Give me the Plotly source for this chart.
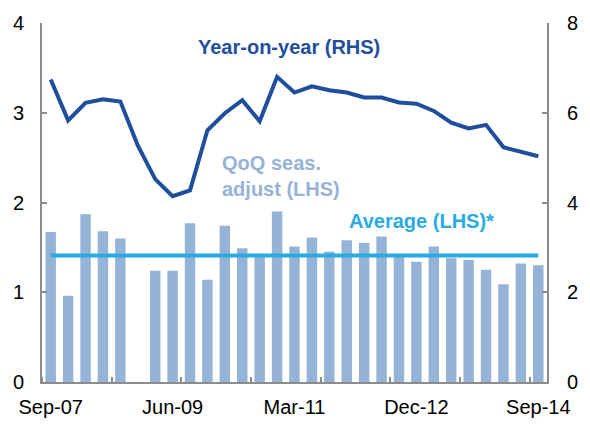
import plotly.graph_objects as go

# Quarterly periods, Sep-07 to Sep-14
quarters = ["Sep-07", "Dec-07", "Mar-08", "Jun-08", "Sep-08", "Dec-08", "Mar-09",
            "Jun-09", "Sep-09", "Dec-09", "Mar-10", "Jun-10", "Sep-10", "Dec-10",
            "Mar-11", "Jun-11", "Sep-11", "Dec-11", "Mar-12", "Jun-12", "Sep-12",
            "Dec-12", "Mar-13", "Jun-13", "Sep-13", "Dec-13", "Mar-14", "Jun-14",
            "Sep-14"]

# Quarter-on-quarter growth, seasonally adjusted (LHS, %)
qoq = [1.67, 0.96, 1.87, 1.68, 1.60, -0.02, 1.24, 1.24, 1.77, 1.14, 1.74, 1.49,
       1.42, 1.90, 1.51, 1.61, 1.45, 1.58, 1.55, 1.62, 1.41, 1.34, 1.51, 1.38,
       1.36, 1.25, 1.09, 1.32, 1.30]

# Year-on-year growth (RHS, %)
yoy = [6.74, 5.83, 6.22, 6.30, 6.25, 5.27, 4.52, 4.14, 4.27, 5.61, 5.99, 6.28,
       5.81, 6.80, 6.45, 6.59, 6.50, 6.45, 6.34, 6.34, 6.23, 6.20, 6.04, 5.78,
       5.65, 5.73, 5.23, 5.14, 5.03]

# Long-run average of quarterly growth (LHS, %)
average_qoq = 1.41

tick_labels = ["Sep-07", "Jun-09", "Mar-11", "Dec-12", "Sep-14"]

x = list(range(len(quarters)))
tick_pos = [quarters.index(t) for t in tick_labels]

BAR = "#95B3D7"
LINE = "#1F4E9C"
AVG = "#29ABE2"
AXIS = "#8C8C8C"
FONT = "Liberation Sans, Arial, sans-serif"

fig = go.Figure()
fig.add_trace(go.Bar(x=x, y=qoq, marker_color=BAR, marker_line_width=0,
                     yaxis="y", hoverinfo="skip"))
fig.add_trace(go.Scatter(x=x, y=[average_qoq] * len(x), mode="lines",
                         line=dict(color=AVG, width=4), yaxis="y"))
fig.add_trace(go.Scatter(x=x, y=yoy, mode="lines",
                         line=dict(color=LINE, width=4), yaxis="y2"))

fig.update_layout(
    width=590, height=430,
    margin=dict(l=42, r=32, t=17, b=43),
    paper_bgcolor="white", plot_bgcolor="white",
    showlegend=False, bargap=0.4,
    font=dict(family=FONT, size=20, color="black"),
    xaxis=dict(
        range=[-0.5, len(x) - 0.5],
        tickmode="array", tickvals=tick_pos, ticktext=tick_labels,
        ticks="", showgrid=False, zeroline=False,
        showline=True, linecolor=AXIS, linewidth=2,
        ticklabelstandoff=6,
        minor=dict(tickmode="linear", tick0=3.5, dtick=4, ticks="inside",
                   ticklen=5, tickwidth=1.5, tickcolor=AXIS, showgrid=False),
    ),
    yaxis=dict(
        range=[0, 4], tickvals=[0, 1, 2, 3, 4], ticks="inside", ticklen=5,
        tickwidth=1.5, tickcolor=AXIS, showgrid=False, zeroline=False,
        showline=True, linecolor=AXIS, linewidth=2, ticklabelstandoff=12,
    ),
    yaxis2=dict(
        range=[0, 8], tickvals=[0, 2, 4, 6, 8], overlaying="y", side="right",
        ticks="inside", ticklen=5, tickwidth=1.5, tickcolor=AXIS,
        showgrid=False, zeroline=False, showline=True, linecolor=AXIS,
        linewidth=2, ticklabelstandoff=14,
    ),
    annotations=[
        dict(x=13.66, y=3.73, xref="x", yref="y", text="<b>Year-on-year (RHS)</b>",
             showarrow=False, font=dict(color=LINE, size=20), xanchor="center"),
        dict(x=9.72, y=2.29, xref="x", yref="y",
             text="<b>QoQ seas.<br>adjust (LHS)</b>", align="left",
             showarrow=False, font=dict(color=BAR, size=20), xanchor="left"),
        dict(x=21.3, y=1.79, xref="x", yref="y", text="<b>Average (LHS)*</b>",
             showarrow=False, font=dict(color=AVG, size=20), xanchor="center"),
    ],
)

fig.write_html("out.html")
